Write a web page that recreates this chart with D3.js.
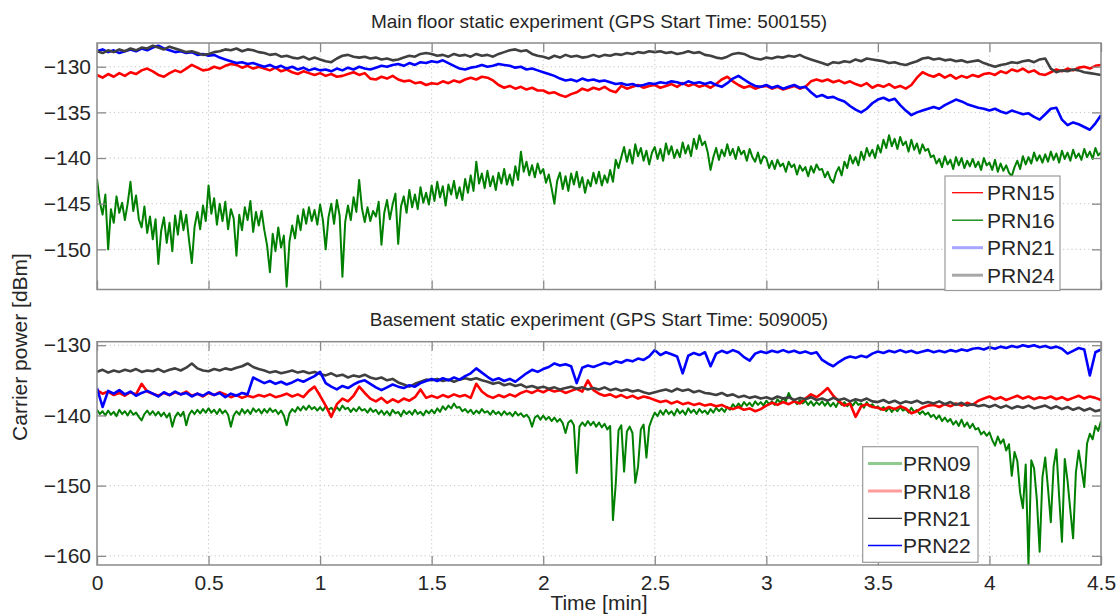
<!DOCTYPE html>
<html>
<head>
<meta charset="utf-8">
<script src="https://cdn.jsdelivr.net/npm/d3@7"></script>
<style>
  body { margin: 0; background: #fff; }
  svg { display: block; }
  text { font-family: "Liberation Sans", Arial, Helvetica, sans-serif; fill: #262626; }
</style>
</head>
<body>
<svg id="chart" width="1119" height="615"></svg>
<script>
// Sample spacing in minutes (all records start at t = 0)
const coarseStep = 0.025;
const fineStep = 0.0125;

const xTickValues = [0, 0.5, 1, 1.5, 2, 2.5, 3, 3.5, 4, 4.5];
const xTickLabels = ["0", "0.5", "1", "1.5", "2", "2.5", "3", "3.5", "4", "4.5"];
const mainYTicks = [-130, -135, -140, -145, -150];
const baseYTicks = [-130, -140, -150, -160];

const mainTitle = "Main floor static experiment (GPS Start Time: 500155)";
const baseTitle = "Basement static experiment (GPS Start Time: 509005)";
const yAxisTitle = "Carrier power [dBm]";
const xAxisTitle = "Time [min]";

const mainNames = ["PRN15", "PRN16", "PRN21", "PRN24"];
const baseNames = ["PRN09", "PRN18", "PRN21", "PRN22"];

// Main floor carrier power (dBm)
const mainPrn15 = [
  -130.9,-131.2,-130.8,-131.1,-130.7,-131.0,-130.6,-130.8,-130.4,-130.2,
  -130.5,-130.9,-131.1,-130.7,-130.4,-130.6,-130.2,-129.8,-130.1,-130.4,
  -130.3,-130.0,-130.2,-129.9,-129.7,-129.8,-130.1,-129.9,-130.2,-130.0,
  -130.2,-130.4,-130.1,-130.5,-130.3,-130.6,-130.8,-130.5,-130.7,-130.9,
  -130.7,-131.0,-130.8,-131.1,-131.0,-130.8,-130.6,-130.9,-130.7,-131.3,
  -131.4,-131.1,-131.3,-131.0,-131.4,-131.6,-131.5,-131.8,-131.7,-132.0,
  -131.8,-131.9,-131.6,-131.8,-131.5,-131.7,-131.4,-131.2,-131.4,-131.1,
  -131.2,-131.5,-132.0,-132.3,-132.1,-132.4,-132.2,-132.5,-132.3,-132.6,
  -132.6,-132.9,-132.8,-133.1,-133.3,-133.0,-132.8,-132.4,-132.6,-132.3,
  -132.5,-132.2,-132.6,-132.8,-132.1,-132.4,-132.2,-132.0,-132.3,-132.1,
  -132.0,-132.3,-132.1,-131.9,-132.2,-131.8,-132.1,-131.9,-132.2,-132.0,
  -132.3,-131.9,-131.4,-131.1,-131.6,-132.0,-132.3,-132.1,-132.4,-132.2,
  -132.1,-132.4,-132.2,-132.5,-132.3,-132.1,-132.4,-132.2,-131.6,-131.4,
  -131.6,-131.4,-131.7,-131.5,-131.8,-131.6,-131.9,-132.1,-131.8,-132.3,
  -132.0,-132.2,-131.9,-132.3,-132.1,-132.4,-132.0,-131.2,-130.6,-130.9,
  -131.1,-130.8,-131.2,-130.9,-131.3,-131.0,-131.2,-130.9,-131.1,-130.8,
  -130.7,-130.9,-130.5,-130.7,-130.3,-130.5,-130.2,-130.6,-130.4,-130.8,
  -130.9,-130.6,-130.3,-130.5,-130.2,-130.4,-130.1,-130.0,-130.2,-129.9,
  -129.8
];
const mainPrn16 = [
  -142.3,-144.8,-146.2,-144.0,-150.0,-145.6,-147.1,-144.2,-146.0,-144.9,-146.8,-145.0,-142.6,-145.8,-144.1,-146.7,-147.6,-145.3,-148.2,-146.4,
  -148.9,-146.7,-151.6,-148.0,-146.5,-149.3,-147.1,-150.2,-146.3,-148.4,-145.8,-147.9,-146.2,-149.0,-151.5,-147.5,-145.9,-147.8,-145.2,-146.9,
  -143.0,-146.1,-144.4,-147.3,-145.0,-146.9,-144.8,-147.8,-145.6,-146.6,-150.7,-146.2,-147.9,-145.4,-146.8,-144.7,-148.1,-145.9,-147.4,-145.8,
  -147.9,-149.6,-152.5,-148.3,-150.2,-147.6,-149.8,-148.5,-154.1,-149.2,-147.4,-148.8,-146.3,-147.9,-145.6,-147.2,-145.4,-146.9,-145.7,-147.3,
  -145.1,-146.8,-150.0,-146.5,-145.0,-147.2,-144.6,-146.3,-153.0,-147.0,-145.2,-146.8,-144.3,-145.9,-142.4,-145.5,-147.0,-145.4,-146.9,-145.8,
  -146.4,-144.8,-149.5,-146.0,-144.6,-146.7,-145.1,-143.9,-149.4,-145.3,-144.2,-146.0,-143.5,-145.4,-144.0,-145.6,-143.2,-144.9,-143.8,-145.1,
  -143.0,-144.7,-142.6,-144.3,-143.1,-145.2,-142.9,-144.0,-142.5,-144.4,-143.2,-144.6,-142.3,-143.8,-141.9,-143.6,-140.4,-142.8,-141.7,-143.3,
  -141.4,-143.1,-142.0,-143.5,-141.6,-142.8,-141.2,-142.9,-141.8,-143.0,-140.9,-142.4,-139.3,-141.5,-140.4,-141.9,-140.8,-142.1,-140.6,-141.7,
  -141.2,-142.7,-141.8,-143.3,-145.0,-142.5,-141.6,-143.4,-142.0,-143.6,-141.7,-142.9,-141.5,-143.2,-142.1,-143.8,-142.4,-143.1,-141.6,-142.8,
  -141.5,-143.0,-141.9,-142.7,-141.3,-142.6,-140.2,-141.1,-139.9,-138.8,-140.4,-139.1,-140.6,-138.5,-139.8,-138.9,-140.3,-139.2,-140.7,-139.4,
  -138.8,-140.1,-139.0,-140.3,-138.4,-139.6,-138.7,-140.0,-139.1,-139.9,-138.3,-139.5,-138.6,-139.8,-137.9,-139.0,-137.5,-138.6,-138.2,-139.4,
  -141.3,-139.9,-138.9,-140.2,-139.1,-139.8,-138.5,-139.7,-139.0,-140.1,-138.8,-139.6,-139.2,-140.3,-139.0,-139.9,-140.4,-139.4,-140.6,-139.8,
  -140.0,-141.1,-140.3,-141.2,-140.2,-140.9,-140.6,-141.5,-140.4,-141.0,-140.7,-141.8,-140.8,-141.4,-141.0,-142.0,-140.9,-141.6,-140.7,-141.3,
  -141.2,-142.1,-141.5,-142.3,-142.7,-141.6,-141.0,-141.9,-140.4,-141.1,-139.7,-140.6,-139.9,-140.8,-139.3,-140.2,-138.9,-139.8,-139.1,-140.0,
  -138.6,-139.4,-138.0,-138.9,-137.5,-138.7,-137.9,-139.0,-137.7,-138.6,-138.2,-139.3,-138.0,-139.1,-138.4,-139.5,-138.5,-139.2,-139.0,-139.9,
  -139.7,-140.6,-140.1,-141.0,-139.8,-140.7,-140.2,-141.2,-139.9,-140.8,-140.0,-141.1,-140.3,-140.9,-140.1,-141.0,-140.4,-141.3,-140.0,-140.8,
  -140.5,-141.3,-140.2,-141.5,-140.6,-141.4,-140.8,-141.6,-142.0,-141.0,-140.3,-141.2,-139.8,-140.7,-139.9,-140.6,-139.4,-140.3,-139.7,-140.5,
  -139.6,-140.4,-139.3,-140.2,-139.5,-140.5,-139.2,-140.1,-139.4,-140.3,-139.1,-140.0,-139.5,-140.2,-139.0,-139.9,-139.3,-140.1,-138.9,-139.7,
  -139.4
];
const mainPrn21 = [
  -128.3,-128.1,-128.4,-128.2,-128.5,-128.3,-128.1,-128.3,-128.0,-128.2,
  -127.9,-127.7,-128.0,-128.2,-128.4,-128.3,-128.5,-128.4,-128.7,-128.6,
  -128.8,-128.7,-129.0,-129.2,-129.4,-129.6,-129.5,-129.7,-129.6,-129.8,
  -130.0,-129.8,-130.1,-129.9,-130.2,-130.0,-130.3,-130.1,-130.4,-130.2,
  -130.4,-130.3,-130.5,-130.2,-130.4,-130.1,-130.3,-130.0,-130.2,-130.3,
  -130.1,-129.9,-130.0,-129.8,-129.7,-129.9,-129.6,-129.8,-129.5,-129.6,
  -129.4,-129.5,-129.3,-129.6,-129.9,-130.2,-130.3,-130.1,-130.0,-129.8,
  -130.0,-129.9,-129.7,-129.8,-129.9,-130.1,-130.0,-130.3,-130.2,-130.4,
  -130.6,-130.8,-131.0,-131.3,-131.5,-131.4,-131.6,-131.3,-131.5,-131.4,
  -131.6,-131.5,-131.7,-131.9,-131.8,-132.0,-131.9,-132.1,-132.0,-131.8,
  -131.9,-131.7,-131.8,-131.6,-131.7,-131.9,-131.6,-131.8,-131.7,-131.9,
  -131.7,-132.0,-132.2,-131.8,-131.3,-131.0,-131.4,-131.8,-132.1,-132.2,
  -132.0,-132.3,-132.1,-132.4,-132.2,-132.0,-132.3,-132.2,-132.8,-133.3,
  -133.1,-133.4,-133.3,-133.6,-133.8,-134.3,-134.7,-135.0,-134.6,-134.0,
  -133.6,-133.4,-133.7,-133.5,-134.2,-134.8,-135.3,-135.0,-134.8,-134.6,
  -134.4,-134.6,-134.2,-133.9,-133.6,-133.8,-134.1,-134.3,-134.5,-134.6,
  -134.8,-134.6,-134.9,-135.1,-134.8,-135.0,-135.2,-135.1,-135.5,-135.8,
  -135.2,-134.6,-134.5,-135.8,-136.4,-136.1,-136.3,-136.6,-136.9,-136.2,
  -135.3
];
const mainPrn24 = [
  -128.3,-128.5,-128.2,-128.4,-128.1,-128.3,-128.0,-128.2,-127.9,-128.0,
  -127.7,-127.9,-128.1,-127.8,-128.0,-128.2,-128.4,-128.3,-128.5,-128.7,
  -128.6,-128.4,-128.3,-128.1,-128.2,-128.0,-128.3,-128.1,-128.2,-128.4,
  -128.5,-128.7,-128.6,-128.9,-128.8,-129.0,-129.1,-128.9,-129.2,-129.0,
  -129.2,-129.4,-129.5,-129.1,-128.8,-128.7,-128.9,-129.0,-128.9,-129.1,
  -129.0,-129.2,-129.1,-129.3,-129.2,-129.0,-128.8,-128.9,-128.6,-128.5,
  -128.6,-128.8,-128.7,-128.9,-128.6,-128.8,-128.7,-128.9,-128.6,-128.8,
  -128.7,-128.9,-128.6,-128.4,-128.2,-128.1,-128.3,-128.2,-128.6,-128.8,
  -128.9,-129.1,-128.8,-129.0,-128.7,-128.9,-128.8,-129.0,-128.9,-128.7,
  -128.9,-128.7,-128.8,-128.6,-128.7,-128.5,-128.6,-128.4,-128.5,-128.3,
  -128.4,-128.3,-128.5,-128.4,-128.6,-128.5,-128.3,-128.5,-128.4,-128.7,
  -128.8,-129.0,-129.1,-128.9,-128.6,-128.5,-128.6,-128.9,-129.1,-129.2,
  -129.0,-129.1,-128.9,-129.0,-128.8,-128.9,-128.7,-129.0,-129.2,-129.4,
  -129.6,-129.8,-129.5,-129.6,-129.4,-129.5,-129.2,-129.4,-129.1,-129.2,
  -129.3,-129.4,-129.6,-129.5,-129.7,-129.8,-129.6,-129.4,-129.1,-129.0,
  -129.2,-129.1,-129.3,-129.2,-129.4,-129.3,-129.5,-129.4,-129.3,-129.6,
  -129.8,-130.0,-129.8,-129.7,-129.5,-129.6,-129.4,-129.3,-129.5,-129.2,
  -129.1,-130.2,-130.6,-130.4,-130.5,-130.3,-130.4,-130.6,-130.7,-130.8,
  -130.9
];

// Basement carrier power (dBm)
const basePrn09 = [
  -139.2,-139.8,-139.4,-140.0,-139.3,-139.9,-139.5,-140.1,-139.2,-139.8,-139.4,-140.0,-139.3,-139.9,-139.6,-140.2,-140.7,-139.8,-139.3,-139.9,
  -139.4,-140.0,-139.5,-140.1,-139.6,-140.3,-139.7,-141.6,-140.2,-139.6,-140.1,-139.5,-141.4,-139.9,-139.3,-139.8,-139.2,-139.7,-139.1,-139.6,
  -139.0,-139.6,-139.2,-139.8,-139.1,-139.7,-139.3,-139.9,-141.6,-140.0,-139.4,-139.9,-139.1,-139.7,-139.2,-139.8,-139.0,-139.5,-139.1,-139.7,
  -139.1,-139.6,-139.0,-139.5,-139.2,-139.8,-139.3,-140.0,-141.4,-139.7,-139.1,-139.5,-138.8,-139.3,-138.7,-139.2,-138.6,-139.1,-138.8,-139.3,
  -138.8,-139.3,-138.7,-139.2,-138.9,-139.4,-138.8,-139.3,-138.6,-139.1,-138.9,-139.5,-139.0,-139.4,-138.8,-139.3,-139.1,-139.6,-139.0,-139.5,
  -139.2,-139.8,-139.3,-139.9,-139.4,-140.0,-139.2,-139.7,-139.5,-140.1,-139.3,-139.8,-139.4,-139.9,-139.2,-139.8,-139.5,-140.0,-139.3,-139.7,
  -139.2,-139.7,-139.0,-139.5,-138.7,-139.2,-138.6,-139.0,-138.3,-138.9,-138.8,-139.4,-139.1,-139.6,-139.2,-139.8,-139.3,-139.7,-139.1,-139.6,
  -139.4,-139.9,-139.3,-139.8,-139.5,-140.0,-139.4,-139.9,-139.6,-140.1,-139.5,-140.0,-139.7,-140.2,-139.9,-140.4,-141.6,-140.3,-140.0,-140.6,
  -140.0,-140.6,-140.2,-140.8,-140.3,-140.9,-140.5,-141.1,-142.5,-141.0,-140.7,-141.4,-148.2,-141.6,-141.0,-141.5,-140.8,-141.4,-140.9,-141.6,
  -141.0,-141.7,-141.2,-142.0,-141.5,-154.9,-149.8,-142.1,-141.4,-148.0,-142.3,-141.6,-142.5,-149.6,-147.3,-142.0,-141.3,-146.0,-141.6,-140.5,
  -139.6,-140.1,-139.3,-139.9,-139.2,-139.8,-139.4,-140.0,-139.1,-139.7,-139.3,-139.9,-139.0,-139.6,-139.2,-139.8,-139.1,-139.6,-139.3,-139.8,
  -139.1,-139.6,-138.9,-139.4,-139.0,-139.5,-138.8,-139.2,-138.4,-138.9,-138.3,-138.8,-138.1,-138.6,-138.2,-138.7,-138.0,-138.5,-138.1,-138.6,
  -137.9,-138.4,-138.0,-138.5,-137.7,-138.2,-137.5,-138.0,-136.8,-137.6,-137.9,-138.4,-137.8,-138.3,-137.9,-138.5,-138.0,-138.6,-138.1,-138.5,
  -138.0,-138.6,-138.1,-138.7,-138.2,-138.8,-138.0,-138.5,-138.1,-138.7,-138.2,-138.6,-138.0,-138.5,-138.3,-138.9,-138.1,-138.7,-138.4,-138.9,
  -138.7,-139.2,-138.8,-139.4,-138.9,-139.5,-139.0,-139.4,-138.8,-139.3,-139.1,-139.6,-138.9,-139.5,-139.2,-139.8,-139.4,-139.9,-139.6,-140.2,
  -139.9,-140.5,-140.0,-140.8,-140.3,-140.9,-140.5,-141.3,-140.8,-141.5,-140.6,-141.6,-141.0,-141.8,-141.2,-142.0,-141.8,-142.7,-142.3,-142.9,
  -142.4,-143.5,-144.3,-143.0,-144.0,-143.4,-145.0,-144.1,-148.6,-145.2,-146.5,-151.0,-153.2,-147.0,-161.3,-146.4,-147.5,-152.0,-159.4,-148.8,
  -146.0,-150.4,-155.2,-147.3,-144.8,-151.6,-158.0,-146.2,-149.3,-153.5,-157.5,-148.1,-145.0,-147.6,-150.2,-144.0,-142.6,-143.4,-141.5,-142.2,
  -140.8
];
const basePrn18 = [
  -136.4,-136.9,-136.6,-137.1,-136.8,-137.2,-136.7,-137.0,-135.5,-136.6,
  -136.9,-137.2,-136.8,-137.1,-136.7,-137.0,-136.6,-137.2,-136.9,-137.3,
  -136.8,-137.1,-136.7,-137.0,-137.4,-137.1,-137.5,-137.2,-137.4,-137.1,
  -137.3,-137.0,-137.4,-137.2,-136.9,-137.3,-137.0,-137.4,-136.5,-135.9,
  -137.2,-138.6,-140.2,-138.4,-137.6,-138.0,-137.2,-135.9,-136.8,-137.6,
  -138.0,-137.5,-138.2,-137.7,-138.1,-137.6,-137.9,-137.4,-136.3,-137.5,
  -137.2,-137.5,-137.1,-137.4,-137.0,-137.3,-137.1,-137.5,-135.5,-136.6,
  -137.2,-137.5,-137.1,-137.4,-137.0,-137.3,-136.8,-136.5,-136.8,-136.4,
  -136.7,-136.3,-136.6,-136.4,-136.8,-136.5,-136.2,-136.6,-135.0,-136.4,
  -136.9,-137.2,-137.0,-137.4,-137.1,-137.5,-137.2,-137.6,-137.3,-137.5,
  -137.8,-138.1,-137.9,-138.3,-138.0,-138.4,-138.2,-138.5,-138.3,-138.6,
  -138.4,-138.7,-138.5,-138.9,-139.1,-138.8,-139.2,-139.0,-139.4,-139.1,
  -138.6,-138.2,-138.5,-138.1,-138.4,-138.0,-138.3,-137.6,-137.0,-137.4,
  -136.8,-136.1,-137.2,-138.0,-138.6,-138.3,-140.2,-138.7,-138.4,-138.8,
  -138.9,-139.2,-138.8,-139.1,-138.7,-139.0,-139.7,-139.4,-138.9,-138.6,
  -138.5,-138.8,-138.4,-138.7,-138.3,-138.6,-138.2,-138.5,-137.9,-137.6,
  -137.3,-137.7,-137.4,-137.8,-137.5,-137.2,-137.6,-137.3,-137.7,-137.4,
  -137.6,-137.3,-137.7,-137.4,-137.8,-137.5,-137.2,-137.6,-137.3,-137.5,
  -137.8
];
const basePrn21 = [
  -133.8,-133.5,-133.9,-133.6,-133.8,-133.5,-133.7,-133.4,-133.8,-133.6,
  -133.7,-133.4,-133.8,-133.5,-133.3,-133.6,-133.2,-132.6,-133.3,-133.6,
  -133.7,-133.4,-133.6,-133.3,-133.5,-133.2,-133.0,-132.6,-133.1,-133.4,
  -133.6,-133.9,-133.7,-134.0,-133.8,-133.6,-133.9,-133.7,-134.0,-133.8,
  -134.1,-134.3,-134.0,-134.4,-134.2,-134.6,-134.3,-134.5,-134.2,-134.6,
  -134.8,-134.6,-135.0,-134.8,-135.3,-135.6,-135.9,-135.5,-135.2,-134.9,
  -135.0,-134.8,-135.1,-134.9,-135.2,-134.9,-134.7,-134.9,-134.7,-135.0,
  -135.2,-135.5,-135.3,-135.7,-135.5,-135.8,-135.6,-136.0,-135.8,-136.1,
  -135.9,-136.2,-136.0,-136.3,-136.1,-135.9,-136.2,-136.0,-136.3,-136.1,
  -136.3,-136.0,-136.4,-136.2,-136.5,-136.3,-136.6,-136.4,-136.7,-136.9,
  -136.7,-136.5,-136.3,-136.6,-136.2,-136.5,-136.3,-136.7,-136.5,-136.8,
  -136.9,-137.1,-136.8,-137.2,-137.0,-137.4,-137.2,-137.5,-137.3,-137.6,
  -137.4,-137.7,-137.3,-137.6,-137.4,-137.8,-137.5,-137.7,-137.4,-137.8,
  -137.6,-137.9,-137.5,-137.8,-137.6,-138.0,-137.7,-137.9,-137.6,-138.0,
  -138.1,-137.8,-138.2,-137.9,-138.3,-138.0,-138.2,-137.9,-138.3,-138.1,
  -138.3,-138.0,-138.4,-138.1,-138.5,-138.2,-138.6,-138.4,-138.7,-138.5,
  -138.8,-138.5,-138.9,-138.6,-139.0,-138.7,-138.9,-138.6,-139.0,-138.8,
  -138.6,-139.0,-138.7,-139.1,-138.8,-139.2,-138.9,-139.3,-139.0,-139.4,
  -139.2
];
const basePrn22 = [
  -136.1,-138.8,-136.5,-136.9,-136.4,-137.0,-136.6,-137.2,-136.8,-136.5,
  -136.9,-137.3,-136.7,-137.1,-136.6,-137.0,-136.8,-137.3,-136.9,-137.2,
  -136.7,-137.1,-136.8,-137.4,-136.9,-137.2,-136.8,-137.0,-134.6,-135.0,
  -135.4,-135.1,-135.5,-135.2,-135.6,-135.3,-134.9,-135.2,-134.8,-134.4,
  -133.8,-135.4,-135.9,-136.3,-135.8,-136.1,-135.6,-135.2,-135.0,-135.5,
  -136.0,-136.4,-136.0,-135.6,-135.9,-136.1,-135.7,-135.9,-135.4,-135.1,
  -134.8,-135.1,-134.7,-135.0,-134.6,-134.9,-134.4,-134.0,-133.3,-133.9,
  -134.5,-135.0,-134.7,-135.1,-134.8,-135.2,-134.6,-134.0,-133.5,-133.8,
  -133.4,-133.1,-132.6,-132.9,-132.7,-133.0,-135.4,-133.2,-132.9,-133.1,
  -132.8,-132.5,-132.7,-132.3,-132.5,-132.1,-132.3,-131.9,-132.1,-131.6,
  -130.7,-131.4,-131.0,-131.3,-131.6,-134.0,-131.5,-131.1,-131.4,-131.0,
  -133.0,-131.2,-130.8,-131.1,-130.7,-131.0,-131.7,-132.2,-131.2,-130.9,
  -131.1,-130.8,-131.0,-130.7,-131.0,-130.8,-131.1,-130.9,-131.2,-131.0,
  -132.1,-132.6,-133.0,-132.4,-131.9,-131.6,-131.8,-131.5,-131.7,-131.2,
  -130.9,-131.1,-130.8,-131.0,-130.7,-131.0,-130.8,-131.1,-130.9,-130.7,
  -131.0,-130.8,-131.0,-130.7,-130.9,-130.6,-130.8,-130.5,-130.4,-130.6,
  -130.3,-130.5,-130.2,-130.4,-130.1,-130.3,-130.0,-130.2,-130.0,-130.3,
  -130.1,-130.4,-130.2,-130.5,-131.2,-130.8,-130.4,-130.6,-134.3,-131.0,
  -130.6
];

// ---------------------------------------------------------------------------

const svg = d3.select("#chart");
const plotLeft = 97, plotRight = 1101;
const x = d3.scaleLinear().domain([0, 4.5]).range([plotLeft, plotRight]);

const panels = [
  {
    id: "main", title: mainTitle, titleY: 28,
    top: 43, bottom: 289.5, domain: [-154.4, -127.4], ticks: mainYTicks,
    showXLabels: false,
    series: [
      { name: mainNames[0], values: mainPrn15, step: coarseStep, color: "#ff0000", width: 2.6 },
      { name: mainNames[1], values: mainPrn16, step: fineStep, color: "#008000", width: 2.0 },
      { name: mainNames[2], values: mainPrn21, step: coarseStep, color: "#0000ff", width: 2.6 },
      { name: mainNames[3], values: mainPrn24, step: coarseStep, color: "#404040", width: 2.6 }
    ],
    legend: {
      x: 945, y: 176, w: 115, h: 114.5, rowY: [192.7, 220.2, 247.7, 275.2],
      lineX: [952, 983], textX: 987,
      styles: [
        { color: "#ff0000", width: 1.3 },
        { color: "#008000", width: 1.3 },
        { color: "#a6a6ff", width: 3 },
        { color: "#a8a8a8", width: 3 }
      ]
    }
  },
  {
    id: "base", title: baseTitle, titleY: 326,
    top: 341.7, bottom: 565, domain: [-161.3, -129.5], ticks: baseYTicks,
    showXLabels: true,
    series: [
      { name: baseNames[0], values: basePrn09, step: fineStep, color: "#008000", width: 2.0 },
      { name: baseNames[1], values: basePrn18, step: coarseStep, color: "#ff0000", width: 2.6 },
      { name: baseNames[2], values: basePrn21, step: coarseStep, color: "#404040", width: 2.6 },
      { name: baseNames[3], values: basePrn22, step: coarseStep, color: "#0000ff", width: 2.6 }
    ],
    legend: {
      x: 862.7, y: 446.7, w: 115.3, h: 115.6, rowY: [463.5, 491, 518.3, 545.5],
      lineX: [868, 902], textX: 903,
      styles: [
        { color: "#8fcb8f", width: 3 },
        { color: "#ff9c9c", width: 3 },
        { color: "#333333", width: 1.3 },
        { color: "#0000ff", width: 1.6 }
      ]
    }
  }
];

const axisColor = "#8a8a8a";
const gridColor = "#c4c4c4";

panels.forEach(p => {
  const y = d3.scaleLinear().domain(p.domain).range([p.bottom, p.top]);
  const g = svg.append("g").attr("class", "panel-" + p.id);

  // clip region for the traces
  svg.append("clipPath").attr("id", "clip-" + p.id)
    .append("rect")
    .attr("x", plotLeft).attr("y", p.top)
    .attr("width", plotRight - plotLeft).attr("height", p.bottom - p.top);

  // dotted grid
  const grid = g.append("g");
  grid.selectAll("line.vx").data(xTickValues.slice(1, -1)).join("line")
    .attr("x1", d => x(d)).attr("x2", d => x(d))
    .attr("y1", p.top).attr("y2", p.bottom)
    .attr("stroke", gridColor).attr("stroke-width", 1)
    .attr("stroke-dasharray", "1.2,3");
  grid.selectAll("line.hy").data(p.ticks.filter(t => y(t) > p.top + 2 && y(t) < p.bottom - 2)).join("line")
    .attr("x1", plotLeft).attr("x2", plotRight)
    .attr("y1", d => y(d)).attr("y2", d => y(d))
    .attr("stroke", gridColor).attr("stroke-width", 1)
    .attr("stroke-dasharray", "1.2,3");

  // traces
  const traces = g.append("g").attr("clip-path", "url(#clip-" + p.id + ")");
  traces.selectAll("path").data(p.series).join("path")
    .attr("d", s => d3.line().x((d, i) => x(i * s.step)).y(d => y(d))(s.values))
    .attr("fill", "none")
    .attr("stroke", s => s.color)
    .attr("stroke-width", s => s.width)
    .attr("stroke-linejoin", "round");

  // axes: inward ticks on all four sides
  const left = d3.axisLeft(y).tickValues(p.ticks).tickSizeInner(-9).tickSizeOuter(0).tickPadding(6)
    .tickFormat(d3.format("d"));
  const right = d3.axisRight(y).tickValues(p.ticks).tickSizeInner(-9).tickSizeOuter(0).tickFormat("");
  const bottom = d3.axisBottom(x).tickValues(xTickValues).tickSizeInner(-9).tickSizeOuter(0).tickPadding(10)
    .tickFormat((d, i) => p.showXLabels ? xTickLabels[i] : "");
  const topAx = d3.axisTop(x).tickValues(xTickValues).tickSizeInner(-9).tickSizeOuter(0).tickFormat("");

  const styleAxis = sel => {
    sel.select(".domain").remove();
    sel.selectAll(".tick line").attr("stroke", axisColor).attr("stroke-width", 1.3);
    sel.selectAll(".tick text").attr("font-size", 21).attr("fill", "#262626")
      .attr("font-family", "'Liberation Sans', Arial, sans-serif");
  };
  g.append("g").attr("transform", `translate(${plotLeft},0)`).call(left).call(styleAxis);
  g.append("g").attr("transform", `translate(${plotRight},0)`).call(right).call(styleAxis);
  g.append("g").attr("transform", `translate(0,${p.bottom})`).call(bottom).call(styleAxis);
  g.append("g").attr("transform", `translate(0,${p.top})`).call(topAx).call(styleAxis);

  // frame
  g.append("rect")
    .attr("x", plotLeft).attr("y", p.top)
    .attr("width", plotRight - plotLeft).attr("height", p.bottom - p.top)
    .attr("fill", "none").attr("stroke", axisColor).attr("stroke-width", 1.5);

  // title
  g.append("text")
    .attr("x", (plotLeft + plotRight) / 2).attr("y", p.titleY)
    .attr("text-anchor", "middle").attr("font-size", 19)
    .text(p.title);

  // legend
  const L = p.legend;
  const lg = g.append("g");
  lg.append("rect").attr("x", L.x).attr("y", L.y).attr("width", L.w).attr("height", L.h)
    .attr("fill", "#fff").attr("stroke", "#9a9a9a").attr("stroke-width", 1.2);
  p.series.forEach((s, i) => {
    lg.append("line")
      .attr("x1", L.lineX[0]).attr("x2", L.lineX[1])
      .attr("y1", L.rowY[i]).attr("y2", L.rowY[i])
      .attr("stroke", L.styles[i].color)
      .attr("stroke-width", L.styles[i].width);
    lg.append("text")
      .attr("x", L.textX).attr("y", L.rowY[i])
      .attr("dy", "0.36em").attr("font-size", 21)
      .text(s.name);
  });
});

// shared axis titles
svg.append("text")
  .attr("transform", "translate(27,347) rotate(-90)")
  .attr("text-anchor", "middle").attr("font-size", 21)
  .text(yAxisTitle);
svg.append("text")
  .attr("x", (plotLeft + plotRight) / 2).attr("y", 610)
  .attr("text-anchor", "middle").attr("font-size", 21)
  .text(xAxisTitle);
</script>
</body>
</html>
